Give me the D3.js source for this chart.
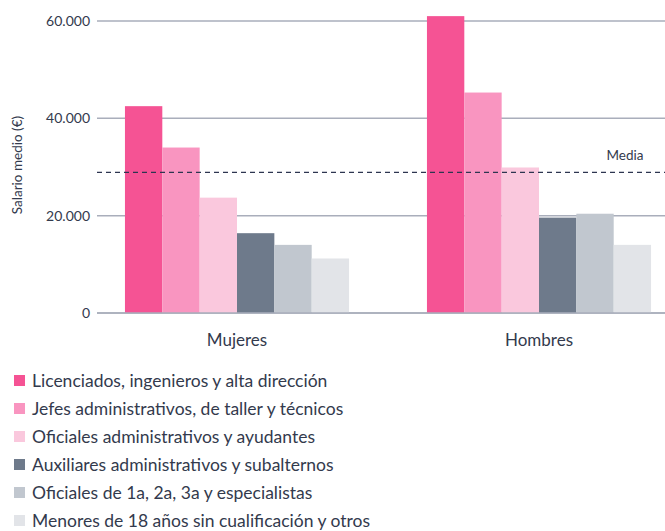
<!DOCTYPE html>
<meta charset="utf-8">
<style>
  body { margin: 0; background: #fff; }
  text { font-family: Lato, "Open Sans", sans-serif; fill: #333a4d; }
  .grid line { stroke: #a9aebb; stroke-width: 1.5px; }
  .media { stroke: #2d3550; stroke-width: 1.3px; stroke-dasharray: 5,4; }
</style>
<body>
<script src="https://cdnjs.cloudflare.com/ajax/libs/d3/7.8.5/d3.min.js"></script>
<script>

var groups = ["Mujeres", "Hombres"];
var categories = [
  "Licenciados, ingenieros y alta dirección",
  "Jefes administrativos, de taller y técnicos",
  "Oficiales administrativos y ayudantes",
  "Auxiliares administrativos y subalternos",
  "Oficiales de 1a, 2a, 3a y especialistas",
  "Menores de 18 años sin cualificación y otros"
];
var colors = ["#f55394", "#f995c0", "#fac8dd", "#6e7a8b", "#c1c7cf", "#e2e4e8"];
var mujeres = [42500, 34000, 23700, 16400, 14000, 11200];
var hombres = [61000, 45300, 29900, 19600, 20400, 14000];
var media = 28900;
var yTicks = [0, 20000, 40000, 60000];

var width = 665, height = 531;

var svg = d3.select("body").append("svg")
  .attr("width", width)
  .attr("height", height);

var y = d3.scaleLinear()
  .domain([0, 60000])
  .range([313, 21]);

var x0 = d3.scaleBand()
  .domain(groups)
  .range([86, 690])
  .paddingInner(0.258)
  .paddingOuter(0.129);

var x1 = d3.scaleBand()
  .domain(d3.range(categories.length))
  .range([0, x0.bandwidth()]);

var fmt = function(d) { return d3.format(",")(d).replace(/,/g, "."); };

// grid lines + tick labels
var grid = svg.append("g").attr("class", "grid");
grid.selectAll("line")
  .data(yTicks)
  .enter().append("line")
    .attr("x1", 97)
    .attr("x2", width)
    .attr("y1", function(d) { return y(d); })
    .attr("y2", function(d) { return y(d); });

svg.append("g").selectAll("text")
  .data(yTicks)
  .enter().append("text")
    .attr("x", 90)
    .attr("y", function(d) { return y(d); })
    .attr("dy", "0.35em")
    .attr("text-anchor", "end")
    .style("font-size", "14px")
    .text(fmt);

svg.append("text")
  .attr("transform", "translate(22,165) rotate(-90)")
  .attr("text-anchor", "middle")
  .style("font-size", "13.5px")
  .text("Salario medio (€)");

// bars
var data = [mujeres, hombres];
var g = svg.append("g").selectAll("g")
  .data(groups)
  .enter().append("g")
    .attr("transform", function(d) { return "translate(" + x0(d) + ",0)"; });

g.selectAll("rect")
  .data(function(d, i) { return data[i]; })
  .enter().append("rect")
    .attr("x", function(d, i) { return x1(i); })
    .attr("width", x1.bandwidth())
    .attr("y", function(d) { return y(d); })
    .attr("height", function(d) { return y(0) - y(d); })
    .attr("fill", function(d, i) { return colors[i]; });

// baseline redrawn on top of bars
svg.append("line")
  .attr("x1", 97).attr("x2", width)
  .attr("y1", y(0)).attr("y2", y(0))
  .style("stroke", "#a9aebb")
  .style("stroke-width", "1.5px");

// group labels
svg.append("g").selectAll("text")
  .data(groups)
  .enter().append("text")
    .attr("x", function(d) { return x0(d) + x0.bandwidth() / 2; })
    .attr("y", 346)
    .attr("text-anchor", "middle")
    .style("font-size", "17px")
    .text(function(d) { return d; });

// media line
svg.append("line")
  .attr("class", "media")
  .attr("x1", 97).attr("x2", width)
  .attr("y1", y(media)).attr("y2", y(media));

svg.append("text")
  .attr("x", 625)
  .attr("y", 160)
  .attr("text-anchor", "middle")
  .style("font-size", "13.5px")
  .text("Media");

// legend
var legend = svg.append("g").selectAll("g")
  .data(categories)
  .enter().append("g")
    .attr("transform", function(d, i) { return "translate(14," + (381 + i * 28) + ")"; });

legend.append("rect")
  .attr("x", 0)
  .attr("y", -6)
  .attr("width", 11)
  .attr("height", 11)
  .attr("fill", function(d, i) { return colors[i]; });

legend.append("text")
  .attr("x", 18)
  .attr("y", 0)
  .attr("dy", "0.35em")
  .style("font-size", "17.5px")
  .text(function(d) { return d; });

</script>
</body>
